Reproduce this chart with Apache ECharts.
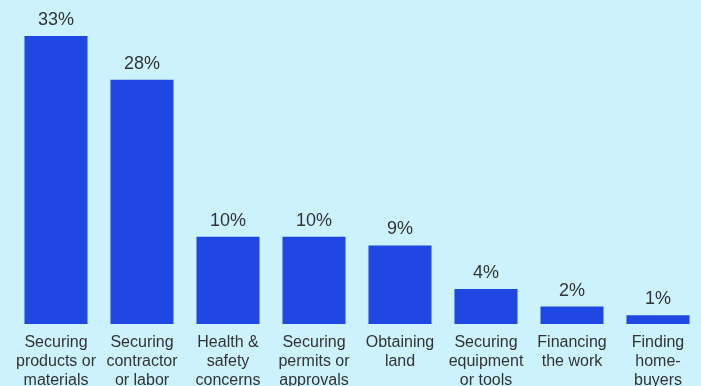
<!DOCTYPE html>
<html>
<head>
<meta charset="utf-8">
<style>
  html, body { margin: 0; padding: 0; background: #ccf2fd; }
  #chart { width: 701px; height: 386px; }
</style>
<script src="https://cdn.jsdelivr.net/npm/echarts@6/dist/echarts.min.js"></script>
</head>
<body>
<div id="chart"></div>
<script>
// Biggest challenges reported, share of respondents (%)
const categories = [
  'Securing\nproducts or\nmaterials',
  'Securing\ncontractor\nor labor',
  'Health &\nsafety\nconcerns',
  'Securing\npermits or\napprovals',
  'Obtaining\nland',
  'Securing\nequipment\nor tools',
  'Financing\nthe work',
  'Finding\nhome-\nbuyers'
];
const shares = [33, 28, 10, 10, 9, 4, 2, 1];

const chart = echarts.init(document.getElementById('chart'), null, { renderer: 'canvas' });
chart.setOption({
  backgroundColor: '#ccf2fd',
  animation: false,
  grid: { left: 13, right: 0, top: 36, bottom: 62, containLabel: false, outerBoundsMode: 'none' },
  xAxis: {
    type: 'category',
    data: categories,
    axisLine: { show: false },
    axisTick: { show: false },
    axisLabel: {
      interval: 0,
      margin: 9,
      color: '#333333',
      fontFamily: 'Liberation Sans, Arial, sans-serif',
      fontSize: 16,
      lineHeight: 19
    }
  },
  yAxis: {
    type: 'value',
    min: 0,
    max: 33,
    show: false,
    splitLine: { show: false }
  },
  series: [{
    type: 'bar',
    data: shares,
    barCategoryGap: '26.7%',
    itemStyle: { color: '#1f47e1' },
    label: {
      show: true,
      position: 'top',
      distance: 7,
      formatter: '{c}%',
      color: '#333333',
      fontFamily: 'Liberation Sans, Arial, sans-serif',
      fontSize: 18
    }
  }]
});
</script>
</body>
</html>
